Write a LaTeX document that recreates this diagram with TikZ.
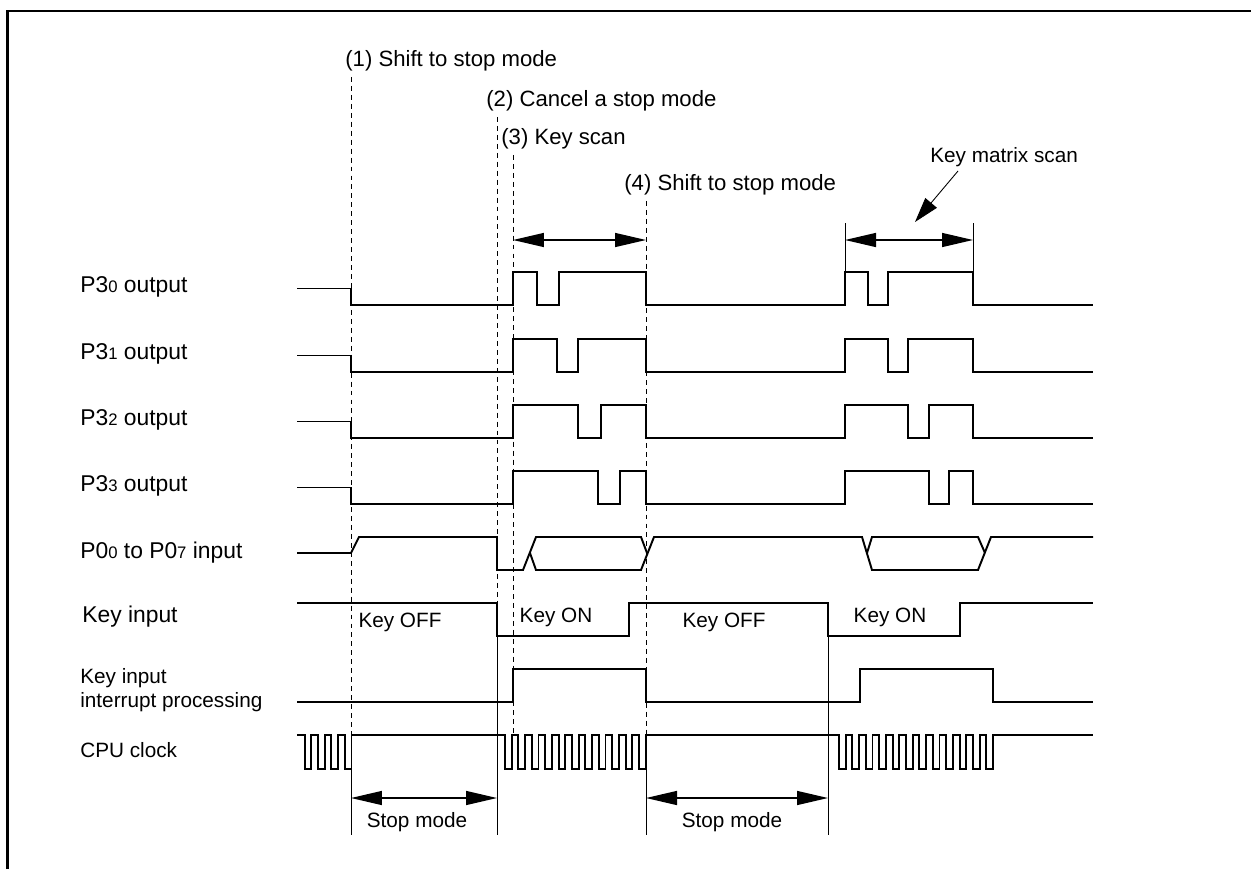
\documentclass[tikz,border=0pt]{standalone}
\usepackage{fontspec}
\setmainfont{Liberation Sans}
\usetikzlibrary{arrows.meta,positioning}
\newcommand{\pin}[1]{{\fontsize{9.5}{11}\selectfont #1}}

\begin{document}
\begin{tikzpicture}[
    x=0.02cm, y=-0.02cm,
    sig/.style={line width=1.1pt},
    guide/.style={line width=0.5pt, dash pattern=on 2.8pt off 2.3pt},
    ext/.style={line width=0.5pt},
    dim/.style={<->, line width=0.8pt, >={Triangle[length=0.62cm, width=0.28cm]}},
    note/.style={anchor=west, inner sep=0pt, font=\fontsize{12.6}{15}\selectfont},
    lbl/.style={anchor=west, inner sep=0pt, font=\fontsize{13}{15}\selectfont},
    txt/.style={inner sep=0pt, font=\fontsize{11.8}{13.5}\selectfont}
]
    \useasboundingbox (0,0) rectangle (1251,869);

    % Frame
    \draw[line width=1.7pt] (7.5,869) -- (7.5,11) -- (1251,11);

    % Event labels
    \node[note] (ev1) at (345,61) {(1) Shift to stop mode};
    \node[note] (ev2) at (486,101) {(2) Cancel a stop mode};
    \node[note] (ev3) at (501,139) {(3) Key scan};
    \node[note] (ev4) at (624,185) {(4) Shift to stop mode};

    % Time marks
    \coordinate (t1) at (351,735);
    \coordinate (t2) at (497,603);
    \coordinate (t3) at (513,735);
    \coordinate (t4) at (646,735);
    \draw[guide] ([yshift=-3pt]ev1.south -| t1) -- (t1);
    \draw[guide] ([yshift=-3pt]ev2.south -| t2) -- (t2);
    \draw[guide] ([yshift=-3pt]ev3.south -| t3) -- (t3);
    \draw[guide] ([yshift=-3pt]ev4.south -| t4) -- (t4);

    % Stop mode extents
    \coordinate (b1) at (351,835);
    \coordinate (b2) at (497,835);
    \coordinate (b4) at (646,835);
    \coordinate (b5) at (828,835);
    \draw[ext] (351,769) -- (b1);
    \draw[ext] (497,636) -- (b2);
    \draw[ext] (646,769) -- (b4);
    \draw[ext] (828,636) -- (b5);

    % Scan extents
    \coordinate (k1) at (513,240);
    \coordinate (k2) at (646,240);
    \coordinate (k3) at (845,240);
    \coordinate (k4) at (973,240);
    \draw[ext] (845,223) -- (845,272);
    \draw[ext] (973,223) -- (973,272);
    \draw[dim] (k1) -- (k2);
    \draw[dim] (k3) -- (k4);

    \node[txt, anchor=west] (kms) at (930,157) {Key matrix scan};
    \coordinate (kmsTip) at (915,222);
    \draw[line width=0.5pt, -{Triangle[length=0.5cm, width=0.3cm]}] (958,171) -- (kmsTip);

    % Port outputs P30..P33
    \foreach \r/\h/\a/\b/\c/\d in {0/272/537/559/868/888, 1/339/557/578/888/908,
                                   2/405/578/601/908/929, 3/471/598/620/929/949}{
        \node[lbl] (p3\r) at (80,\h+15) {P3\pin{\r} output};
        \draw[sig] (297,\h+16.5) -- (351,\h+16.5) -- (351,\h+33) -- (513,\h+33)
            -- (513,\h) -- (\a,\h) -- (\a,\h+33) -- (\b,\h+33) -- (\b,\h)
            -- (646,\h) -- (646,\h+33) -- (845,\h+33) -- (845,\h)
            -- (\c,\h) -- (\c,\h+33) -- (\d,\h+33) -- (\d,\h)
            -- (973,\h) -- (973,\h+33) -- (1093,\h+33);
    }

    % Port inputs P00..P07
    \node[lbl] (p0) at (80,553) {P0\pin{0} to P0\pin{7} input};
    \draw[sig] (297,553) -- (351,553) -- (359,537) -- (497,537) -- (497,570)
        -- (523,570) -- (536,537) -- (641,537) -- (647,553);
    \draw[sig] (530,553) -- (536,570) -- (641,570) -- (654,537) -- (862,537)
        -- (872,570) -- (978,570) -- (991,537) -- (1093,537);
    \draw[sig] (867,553) -- (872,537) -- (978,537) -- (985,553);

    % Key input
    \node[lbl] (key) at (82,617) {Key input};
    \draw[sig] (297,603) -- (497,603) -- (497,636) -- (629,636) -- (629,603)
        -- (828,603) -- (828,636) -- (960,636) -- (960,603) -- (1093,603);
    \node[txt] (off1) at (400,622) {Key OFF};
    \node[txt] (on1) at (556,617) {Key ON};
    \node[txt] (off2) at (724,622) {Key OFF};
    \node[txt] (on2) at (890,617) {Key ON};

    % Key input interrupt
    \node[txt, anchor=west, align=left] (intr) at (80,690) {Key input\\interrupt processing};
    \draw[sig] (297,702) -- (513,702) -- (513,669) -- (646,669) -- (646,702)
        -- (860,702) -- (860,669) -- (993,669) -- (993,702) -- (1093,702);

    % CPU clock
    \node[txt, anchor=west] (clk) at (80,750) {CPU clock};
    \draw[sig] (297,735) -- (304.6,735)
        \foreach \i in {1,...,4}{ -- ++(0,34) -- ++(6.7,0) -- ++(0,-34) -- ++(6.7,0) }
        -- (505,735)
        \foreach \i in {1,...,11}{ -- ++(0,34) -- ++(6.7,0) -- ++(0,-34) -- ++(6.7,0) }
        -- (839,735)
        \foreach \i in {1,...,12}{ -- ++(0,34) -- ++(6.7,0) -- ++(0,-34) -- ++(6.7,0) }
        -- (1093,735);

    % Stop mode
    \coordinate (s1a) at (351,798);
    \coordinate (s1b) at (497,798);
    \coordinate (s2a) at (646,798);
    \coordinate (s2b) at (828,798);
    \draw[dim] (s1a) -- (s1b);
    \draw[dim] (s2a) -- (s2b);
    \node[txt] (stop1) at (417,822) {Stop mode};
    \node[txt] (stop2) at (732,822) {Stop mode};
\end{tikzpicture}
\end{document}
